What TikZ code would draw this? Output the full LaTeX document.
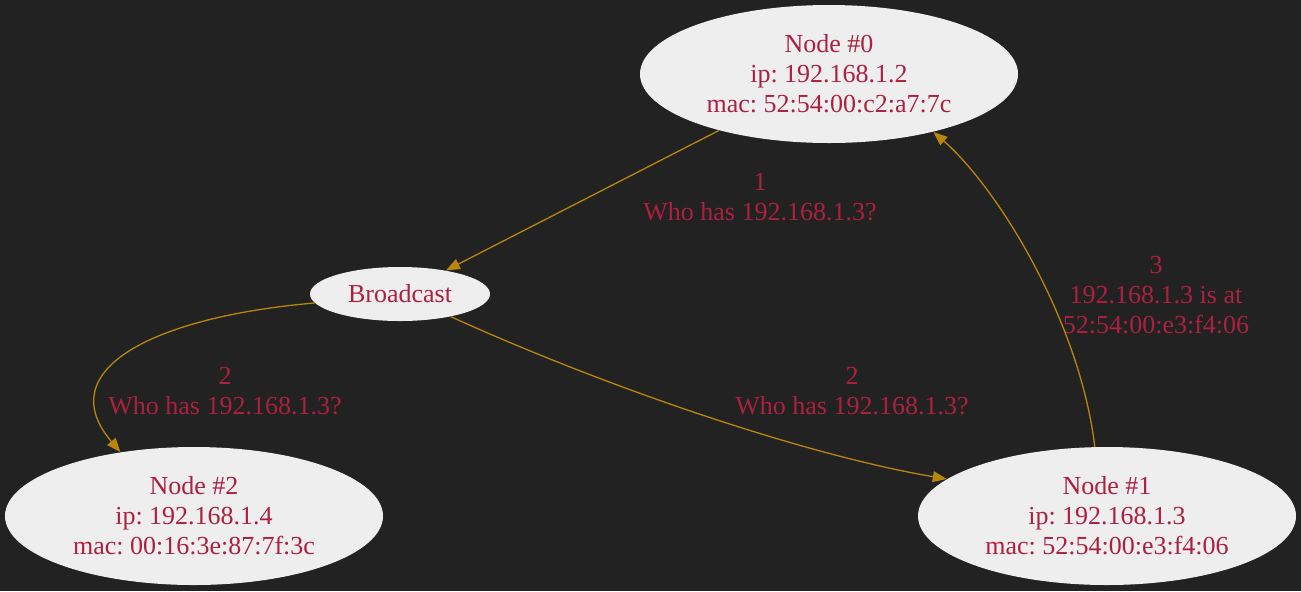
\documentclass[tikz,border=0pt]{standalone}
\usepackage{fontspec}
\setmainfont{Liberation Serif}
\usetikzlibrary{shapes.geometric}
\usetikzlibrary{arrows.meta}
\definecolor{bgdark}{HTML}{222222}
\definecolor{nodefill}{HTML}{EEEEEE}
\definecolor{lblred}{HTML}{AC2040}
\definecolor{edgegold}{HTML}{B8860B}
\frenchspacing

\begin{document}
\begin{tikzpicture}[x=0.5pt,y=-0.5pt,
  host/.style={ellipse,fill=nodefill,text=lblred,inner sep=0pt,align=center,minimum width=189pt,minimum height=69pt},
  hub/.style={ellipse,fill=nodefill,text=lblred,inner sep=0pt,minimum width=90pt,minimum height=27pt},
  msg/.style={text=lblred,align=center,inner sep=0pt}]
\def\l{7pt}
\def\w{5.4pt}
\def\fs{\fontsize{13}{15}\selectfont}
\fill[bgdark] (0,0) rectangle (1301,591);

\node [host, font=\fs, name=n0] at (829,74) {Node \#0\\ip: 192.168.1.2\\mac: 52:54:00:c2:a7:7c};
\node [hub, font=\fs, name=bc] at (400,294) {Broadcast};
\node [host, font=\fs, name=n2] at (194,516) {Node \#2\\ip: 192.168.1.4\\mac: 00:16:3e:87:7f:3c};
\node [host, font=\fs, name=n1] at (1107,516) {Node \#1\\ip: 192.168.1.3\\mac: 52:54:00:e3:f4:06};

\node [msg, font=\fs, name=m1] at (760,197) {1\\Who has 192.168.1.3?};
\node [msg, font=\fs, name=m2] at (225,391) {2\\Who has 192.168.1.3?};
\node [msg, font=\fs, name=m3] at (852,391) {2\\Who has 192.168.1.3?};
\node [msg, font=\fs, name=m4] at (1156,295) {3\\192.168.1.3 is at\\52:54:00:e3:f4:06};

\draw [edgegold, line width=.65pt, -{Triangle[length=\l, width=\w]}](n0) -- (bc);
\draw [edgegold, line width=.65pt, -{Triangle[length=\l, width=\w]}](bc.186) .. controls +(-162,14) and +(-70,-82) .. (n2.139);
\draw [edgegold, line width=.65pt, -{Triangle[length=\l, width=\w]}](bc.336) .. controls +(147,67) and +(-147,-25) .. (n1.167);
\draw [edgegold, line width=.65pt, -{Triangle[length=\l, width=\w]}](n1.100) .. controls +(-15,-125) and +(65,57) .. (n0.331);
\end{tikzpicture}
\end{document}
